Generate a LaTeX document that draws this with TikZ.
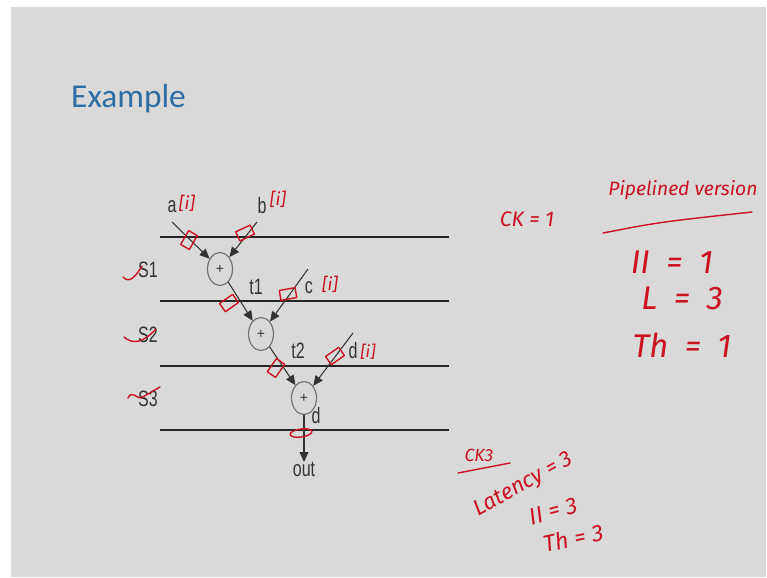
\documentclass[tikz,border=0pt]{standalone}
\usepackage{fontspec}
\setmainfont{Liberation Sans}
\newfontfamily\titlefont{Carlito}
\newfontfamily\handfont{Fira Sans}
\usetikzlibrary{shapes.geometric, arrows.meta, calc}
\definecolor{slidebg}{HTML}{D9D9D9}
\definecolor{titleblue}{HTML}{2E6DA4}
\definecolor{pen}{HTML}{CC1122}

\begin{document}
\begin{tikzpicture}[
    x=0.03cm, y=-0.03cm,
    stage/.style={line width=1.6pt, black!85},
    adder/.style={
        ellipse, draw=black!55, line width=1pt, fill=slidebg,
        minimum width=0.75cm, minimum height=0.99cm, inner sep=0pt,
        font=\fontsize{12}{12}\selectfont, text=black!80
    },
    sig/.style={-{Triangle[length=8.5pt, width=7.5pt]}, line width=0.9pt, black!80},
    lbl/.style={font=\fontsize{19}{19}\selectfont, text=black!80,
        xscale=0.72, transform shape, inner sep=0pt},
    ink/.style={pen, line width=1.2pt, line cap=round, line join=round},
    note/.style={text=pen, font=\handfont\itshape\fontsize{#1}{#1}\selectfont,
        inner sep=0pt}
]

% === Slide ===
\fill[white] (0,0) rectangle (767,577);
\fill[slidebg] (11,7) rectangle (766,577);
\useasboundingbox (0,0) rectangle (767,577);

\node[anchor=base west, inner sep=0pt, text=titleblue,
      font=\titlefont\fontsize{28.5}{28.5}\selectfont] (title) at (71,107) {Example};

% === Pipeline stages ===
\foreach \y in {237,301,366,430}
    \draw[stage] (160,\y) -- (449,\y);

\node[lbl] (s1) at (148,270) {S1};
\node[lbl] (s2) at (148,335) {S2};
\node[lbl] (s3) at (148,399) {S3};

% Adders
\node[adder] (add1) at (220,269) {+};
\node[adder] (add2) at (261,334) {+};
\node[adder] (add3) at (304,398) {+};

% Inputs
\coordinate (ina) at (172,222);
\coordinate (inb) at (257,222);
\coordinate (inc) at (308,269);
\coordinate (ind) at (353,333);

\node[lbl] (la) at (172,207) {a};
\node[lbl] (lb) at (262,206) {b};
\node[lbl] (lc) at (309,288) {c};
\node[lbl] (ld) at (353,351) {d};
\node[lbl] (lt1) at (256,287) {t1};
\node[lbl] (lt2) at (298,351) {t2};
\node[lbl] (lsum) at (316,416) {d};
\node[lbl, anchor=north] (out) at (304,462) {out};

\draw[sig] (ina) -- (add1);
\draw[sig] (inb) -- (add1);
\draw[sig] (add1) -- (add2);
\draw[sig] (inc) -- (add2);
\draw[sig] (add2) -- (add3);
\draw[sig] (ind) -- (add3);
\draw[sig] (add3) -- (out);

% === Hand notes ===
\node[note=15] (ai) at (187,203) {[i]};
\node[note=15] (bi) at (278,199) {[i]};
\node[note=15] (ci) at (330,284) {[i]};
\node[note=14] (di) at (368,352) {[i]};

% register marks
\foreach \x/\y/\a in {189/240/60, 245/233/25, 229/303/35, 288/294/10, 276/368/55, 335/356/35}
    \draw[ink, shift={(\x,\y)}, rotate=\a] (-8,-5) rectangle (8,5);
\draw[ink, rotate around={8:(301,433)}] (301,433) ellipse [x radius=11, y radius=4];

% stage ticks
\draw[ink] (123,277) .. controls (128,282) and (133,281) .. (142,266);
\draw[ink] (124,337) .. controls (132,344) and (142,344) .. (156,329);
\draw[ink] (128,398) .. controls (132,390) and (136,398) .. (141,398) -- (160,387);

\node[note=18] (ck1) at (527,219) {CK = 1};
\node[note=16.5] (pipe) at (683,190) {Pipelined version};
\draw[ink] (603,233) .. controls (660,222) .. (752,212);
\node[note=28] (ii1) at (672,262) {II\enspace=\enspace1};
\node[note=28] (lat1) at (682,298) {L\enspace=\enspace3};
\node[note=28] (th1) at (682,345) {Th\enspace=\enspace1};

\node[note=15] (ck3) at (479,455) {CK3};
\draw[ink] (458,473) -- (510,463);
\node[note=19, rotate=29] (lat3) at (524,485) {Latency = 3};
\node[note=20, rotate=15] (ii3) at (553,511) {II = 3};
\node[note=20, rotate=12] (th3) at (573,538) {Th = 3};

\end{tikzpicture}
\end{document}
